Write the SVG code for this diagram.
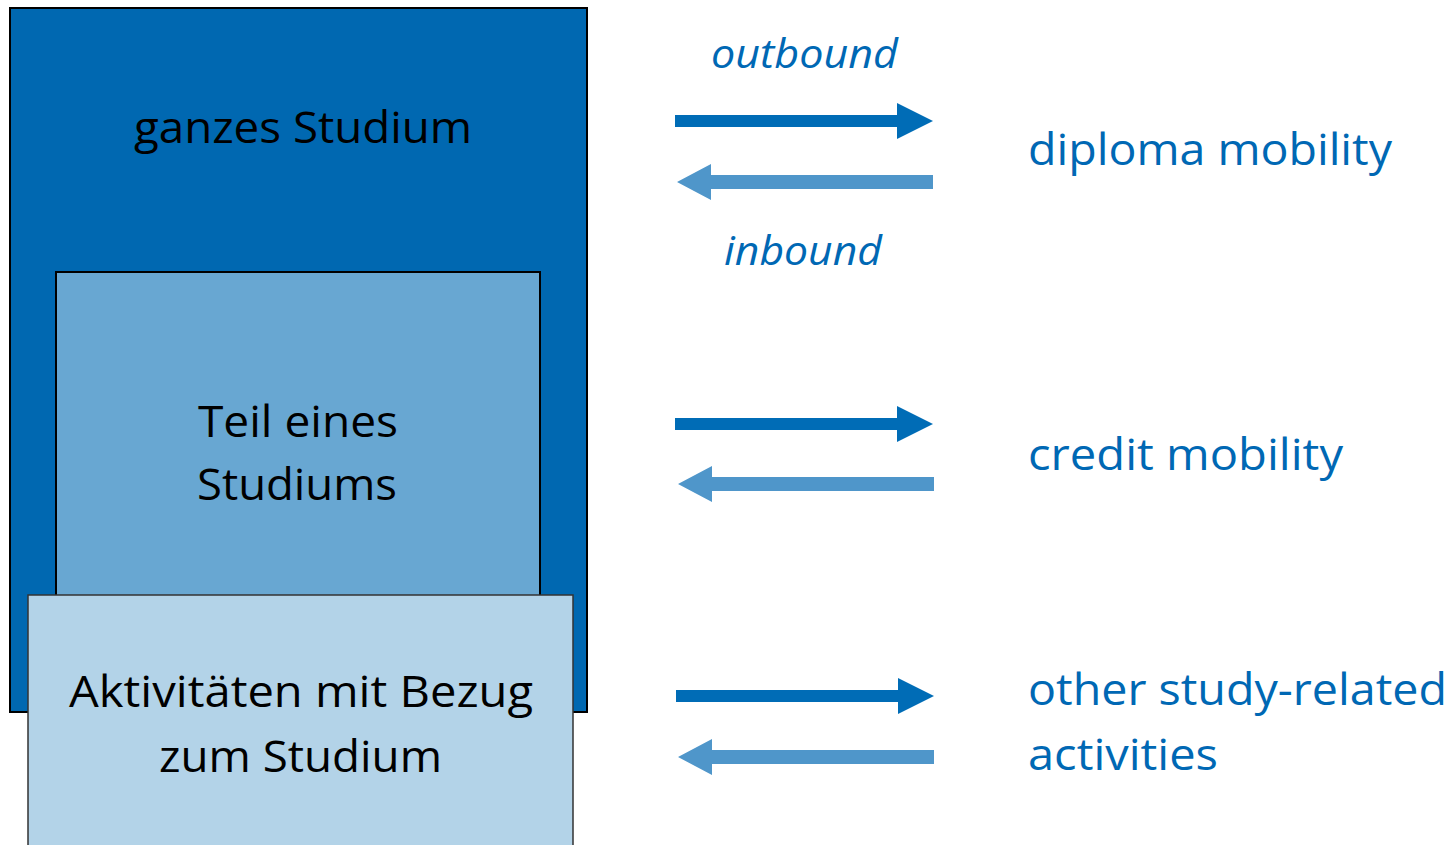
<svg xmlns="http://www.w3.org/2000/svg" width="1455" height="845" viewBox="0 0 1455 845">
<style>
.t{font-family:"Open Sans","Liberation Sans",sans-serif;font-size:43px;fill:#000}
.b{font-family:"Open Sans","Liberation Sans",sans-serif;font-size:43px;fill:#0068b4}
.i{font-family:"Open Sans","Liberation Sans",sans-serif;font-size:40px;font-style:italic;fill:#0068b4}
.out{fill:#006cb6}
.in{fill:#4f96ca}
</style>
<rect width="1455" height="845" fill="#fff"/>
<g id="ganzes">
<rect x="10" y="8" width="577" height="704" fill="#0068b1" stroke="#000" stroke-width="2"/>
<text class="t" x="134" y="143" textLength="338" lengthAdjust="spacingAndGlyphs">ganzes Studium</text>
</g>
<g id="teil">
<rect x="56" y="272" width="484" height="324" fill="#68a7d2" stroke="#000" stroke-width="2"/>
<text class="t" x="198" y="437" textLength="200" lengthAdjust="spacingAndGlyphs">Teil eines</text>
<text class="t" x="197" y="500" textLength="200" lengthAdjust="spacingAndGlyphs">Studiums</text>
</g>
<g id="aktiv">
<rect x="28" y="595" width="545" height="260" fill="#b3d3e8" stroke="#333" stroke-width="1.5"/>
<text class="t" x="69" y="707" textLength="464" lengthAdjust="spacingAndGlyphs">Aktivitäten mit Bezug</text>
<text class="t" x="159" y="772" textLength="283" lengthAdjust="spacingAndGlyphs">zum Studium</text>
</g>
<g id="labels">
<text class="i" x="711" y="68" textLength="187" lengthAdjust="spacingAndGlyphs">outbound</text>
<text class="i" x="724" y="265" textLength="158" lengthAdjust="spacingAndGlyphs">inbound</text>
<text class="b" x="1028" y="165" textLength="364" lengthAdjust="spacingAndGlyphs">diploma mobility</text>
<text class="b" x="1028" y="470" textLength="315" lengthAdjust="spacingAndGlyphs">credit mobility</text>
<text class="b" x="1028" y="705" textLength="419" lengthAdjust="spacingAndGlyphs">other study-related</text>
<text class="b" x="1028" y="770" textLength="190" lengthAdjust="spacingAndGlyphs">activities</text>
</g>
<g id="connectors">
<polygon class="out" points="675,115 897,115 897,103 933,121 897,139 897,127 675,127"/>
<polygon class="in" points="933,175 711,175 711,164 677,182 711,200 711,189 933,189"/>
<polygon class="out" points="675,418 897,418 897,406 933,424 897,442 897,430 675,430"/>
<polygon class="in" points="934,477 712,477 712,466 678,484 712,502 712,491 934,491"/>
<polygon class="out" points="676,690 898,690 898,678 934,696 898,714 898,702 676,702"/>
<polygon class="in" points="934,750 712,750 712,739 678,757 712,775 712,764 934,764"/>
</g>
</svg>
